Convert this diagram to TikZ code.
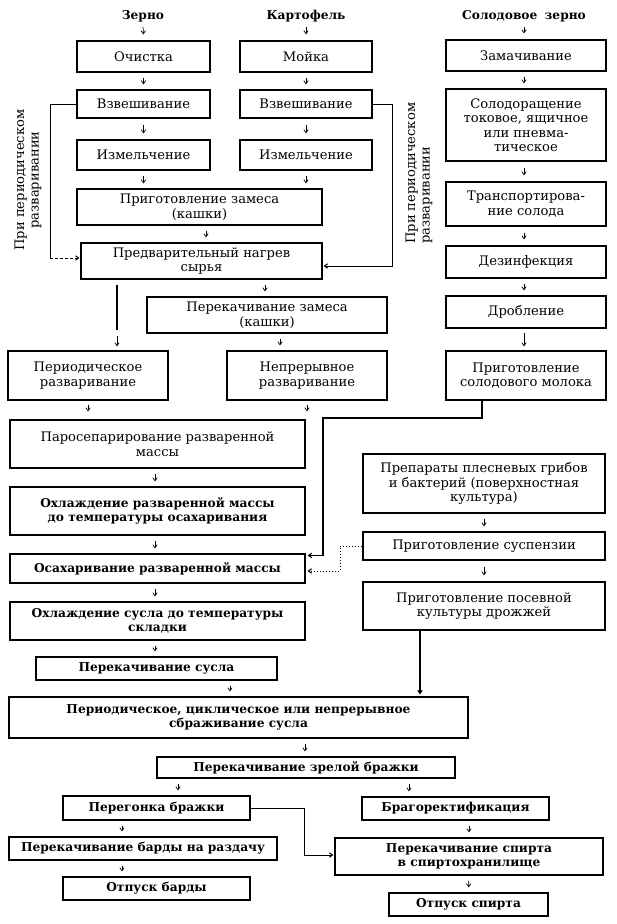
\documentclass[tikz,border=0pt]{standalone}
\usepackage{fontspec}
\setmainfont{DejaVu Serif}
\usetikzlibrary{arrows.meta}
\newcommand{\fsR}{\fontsize{13.1}{14.5}\selectfont}
\newcommand{\fsB}{\fontsize{12.2}{14.5}\selectfont\bfseries}
\begin{document}
\begin{tikzpicture}[x=1pt,y=-1pt,
  sides/.style={draw, line width=1.8pt, -},
  box/.style={draw, line width=1.1pt, inner sep=0pt, align=center, font=\fsR,
    append after command={\pgfextra{\let\myBx\tikzlastnode}
      (\myBx.north west) edge[sides] (\myBx.south west)
      (\myBx.north east) edge[sides] (\myBx.south east)}},
  bbox/.style={box, font=\fsB},
  wh/.style 2 args={minimum width=#1pt, minimum height=#2pt},
  sa/.style={-{Straight Barb[length=3.2pt,width=4.4pt]}, line width=0.7pt},
  gap/.style={sa, shorten <=5pt, shorten >=5pt},
  ln/.style={line width=1pt},
  hdr/.style={font=\fsB, anchor=base, inner sep=0pt},
  vtxt/.style={font=\fsR, rotate=90, inner sep=0pt},
]
\useasboundingbox (0,0) rectangle (617,924);
\fill[white] (0,0) rectangle (617,924);

% headers
\node[hdr] (h1) at (143,19) {Зерно};
\node[hdr] (h2) at (306,19) {Картофель};
\node[hdr] (h3) at (524,19) {Солодовое\hspace{0.6em}зерно};

% grain column
\node[box, wh={133}{31}] (och) at (143.5,56.5) {Очистка};
\node[box, wh={133}{28}] (vz1) at (143.5,104) {Взвешивание};
\node[box, wh={133}{30}] (izm1) at (143.5,155) {Измельчение};
% potato column
\node[box, wh={132}{31}] (moi) at (306,56.5) {Мойка};
\node[box, wh={132}{28}] (vz2) at (306,104) {Взвешивание};
\node[box, wh={132}{30}] (izm2) at (306,155) {Измельчение};

\node[box, wh={245}{36}] (zam) at (199.5,207) {Приготовление замеса\\(кашки)};
\node[box, wh={241}{36}] (nag) at (201.5,261) {Предварительный нагрев\\сырья};
\node[box, wh={240}{36}] (perz) at (267,315) {Перекачивание замеса\\(кашки)};
\node[box, wh={160}{49}] (pr) at (88,375.5) {Периодическое\\разваривание};
\node[box, wh={160}{49}] (nr) at (307,375.5) {Непрерывное\\разваривание};

% malt column
\node[box, wh={160}{31}] (zmch) at (526,55.5) {Замачивание};
\node[box, wh={160}{72}] (sol) at (526,125) {Солодоращение\\токовое, ящичное\\или пневма-\\тическое};
\node[box, wh={160}{44}] (tr) at (526,204) {Транспортирова-\\ние солода};
\node[box, wh={160}{32}] (dez) at (526,262) {Дезинфекция};
\node[box, wh={160}{32}] (drob) at (526,312) {Дробление};
\node[box, wh={160}{49}] (mol) at (526,375.5) {Приготовление\\солодового молока};

% middle
\node[box, wh={295}{48}] (paro) at (157.5,444) {Паросепарирование разваренной\\массы};
\node[bbox, wh={295}{48}] (ohl1) at (157.5,511) {Охлаждение разваренной массы\\до температуры осахаривания};
\node[bbox, wh={295}{29}] (osah) at (157.5,568.5) {Осахаривание разваренной массы};
\node[bbox, wh={295}{38}] (ohl2) at (157.5,621) {Охлаждение сусла до температуры\\складки};

\node[box, wh={242}{59}] (prep) at (484,483.5) {Препараты плесневых грибов\\и бактерий (поверхностная\\культура)};
\node[box, wh={242}{28}] (susp) at (484,546) {Приготовление суспензии};
\node[box, wh={242}{48}] (pos) at (484,606) {Приготовление посевной\\культуры дрожжей};

% bottom
\node[bbox, wh={241}{23}] (pers) at (156.5,668.5) {Перекачивание сусла};
\node[bbox, wh={459}{41}] (sbr) at (238.5,717.5) {Периодическое, циклическое или непрерывное\\сбраживание сусла};
\node[bbox, wh={298}{21}] (zrel) at (306,767.5) {Перекачивание зрелой бражки};
\node[bbox, wh={187}{24}] (pereg) at (156.5,808) {Перегонка бражки};
\node[bbox, wh={187}{23}] (brag) at (455.5,808.5) {Брагоректификация};
\node[bbox, wh={268}{23}] (bard) at (143,848.5) {Перекачивание барды на раздачу};
\node[bbox, wh={187}{23}] (otb) at (156.5,888.5) {Отпуск барды};
\node[bbox, wh={268}{37}] (spirt) at (469,856.5) {Перекачивание спирта\\в спиртохранилище};
\node[bbox, wh={159}{23}] (ots) at (468.5,904.5) {Отпуск спирта};

% vertical labels
\node[vtxt, align=center] (vl) at (28,180) {При периодическом\\разваривании};
\node[vtxt, align=left, anchor=west] (vr) at (419,244) {При периодическом\\разваривании};

% header arrows
\draw[sa] ([yshift=-8pt]h1.base) -- ([yshift=6pt]och.north);
\draw[sa] ([yshift=-8pt]h2.base) -- ([yshift=6pt]moi.north);
\draw[sa] ([yshift=-8pt]h3.base) -- ([yshift=6pt]h3.base |- zmch.north);

% gap arrows
\draw[gap] (och) -- (vz1);
\draw[gap, shorten <=6pt, shorten >=6pt] (vz1) -- (izm1);
\draw[gap] (izm1) -- (izm1.south |- zam.north);
\draw[gap] (moi) -- (vz2);
\draw[gap, shorten <=6pt, shorten >=6pt] (vz2) -- (izm2);
\draw[gap] (izm2) -- (izm2.south |- zam.north);
\draw[gap] ([xshift=6.5pt]zam.south) -- ([xshift=6.5pt]zam.south |- nag.north);
\draw[gap] ([xshift=63.5pt]nag.south) -- ([xshift=63.5pt]nag.south |- perz.north);
\draw[gap] ([xshift=13pt]perz.south) -- ([xshift=13pt]perz.south |- nr.north);
\draw[line width=2.4pt] ([xshift=-84.5pt,yshift=-5pt]nag.south) -- ([xshift=29pt,yshift=20pt]pr.north);
\draw[sa] ([xshift=29pt,yshift=14pt]pr.north) -- ([xshift=29pt,yshift=4pt]pr.north);

\draw[gap] ([xshift=-2pt]zmch.south) -- ([xshift=-2pt]zmch.south |- sol.north);
\draw[gap, shorten <=6pt, shorten >=6pt] ([xshift=-2pt]sol.south) -- ([xshift=-2pt]sol.south |- tr.north);
\draw[gap, shorten <=6pt, shorten >=6pt] ([xshift=-2pt]tr.south) -- ([xshift=-2pt]tr.south |- dez.north);
\draw[gap] ([xshift=-2pt]dez.south) -- ([xshift=-2pt]dez.south |- drob.north);
\draw[gap, shorten <=4pt, shorten >=4pt] ([xshift=-2pt]drob.south) -- ([xshift=-2pt]drob.south |- mol.north);

\draw[gap, shorten <=4pt, shorten >=8pt] (pr.south) -- (pr.south |- paro.north);
\draw[gap, shorten <=4pt, shorten >=8pt] (nr.south) -- (nr.south |- paro.north);
\draw[gap] ([xshift=-2.5pt]paro.south) -- ([xshift=-2.5pt]ohl1.north);
\draw[gap] ([xshift=-2.5pt]ohl1.south) -- ([xshift=-2.5pt]osah.north);
\draw[gap] ([xshift=-2.5pt]osah.south) -- ([xshift=-2.5pt]ohl2.north);
\draw[gap] ([xshift=-2.5pt]ohl2.south) -- ([xshift=-2.5pt]ohl2.south |- pers.north);
\draw[gap] (prep) -- (susp);
\draw[gap, shorten <=6pt, shorten >=6pt] (susp) -- (pos);

\draw[gap] ([xshift=73.5pt]pers.south) -- ([xshift=73.5pt]pers.south |- sbr.north);
\draw[gap] ([xshift=66.5pt]sbr.south) -- ([xshift=66.5pt]sbr.south |- zrel.north);
\draw[gap] ([xshift=-128pt]zrel.south) -- ([xshift=-128pt]zrel.south |- pereg.north);
\draw[gap] ([xshift=103pt]zrel.south) -- ([xshift=103pt]zrel.south |- brag.north);
\draw[gap] ([xshift=-34.5pt]pereg.south) -- ([xshift=-34.5pt]pereg.south |- bard.north);
\draw[gap] ([xshift=-21pt]bard.south) -- ([xshift=-21pt]bard.south |- otb.north);
\draw[gap] ([xshift=13.5pt]brag.south) -- ([xshift=13.5pt]brag.south |- spirt.north);
\draw[gap] (spirt) -- (ots);

% feedback lines
\coordinate (L1) at (50,258);
\draw[ln] (vz1.west) -| (L1);
\draw[sa, line width=0.9pt, dash pattern=on 3pt off 2pt, shorten >=1pt] (L1) -- (nag.west |- L1);
\coordinate (R1) at (392,266);
\draw[sa, line width=1pt, shorten >=1pt] (vz2.east) -| (R1) -- (nag.east |- R1);

\coordinate (M1) at (323,418);
\draw[sa, line width=1.1pt, shorten >=2pt] ([xshift=-44pt]mol.south) |- (M1) |- ([yshift=-2pt]osah.north east);
\coordinate (S1) at (340,571);
\draw[sa, line width=1pt, dash pattern=on 1.5pt off 1.5pt, shorten >=2pt] (susp.west) -| (S1) -- ([yshift=-2.5pt]osah.east);

\draw[sa, line width=1.1pt, shorten >=2pt] ([xshift=-64pt]pos.south) -- ([xshift=-64pt]pos.south |- sbr.north);

\coordinate (P1) at (304,855);
\draw[sa, line width=1pt, shorten >=1pt] (pereg.east) -| (P1) -- (spirt.west |- P1);
\end{tikzpicture}
\end{document}
